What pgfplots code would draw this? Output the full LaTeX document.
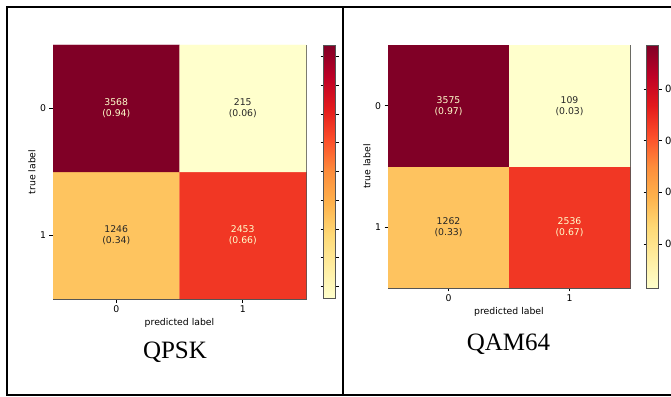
\documentclass[border=0pt]{standalone}
\usepackage{pgfplots}
\pgfplotsset{compat=1.18}
\usepackage{fontspec}
\setmainfont{DejaVu Sans}
\newfontfamily\tnr{Liberation Serif}
\definecolor{frame}{HTML}{555555}
\definecolor{lighttxt}{HTML}{FFFFCC}
\definecolor{darktxt}{HTML}{262626}
\pgfplotsset{
  colormap={ylorrd}{HTML=(FFFFCC) HTML=(FFEDA0) HTML=(FED976) HTML=(FEB24C) HTML=(FD8D3C) HTML=(FC4E2A) HTML=(E31A1C) HTML=(BD0026) HTML=(800026)},
  cm/.style={
    scale only axis,
    colormap name=ylorrd,
    font=\fontsize{9.3}{11}\selectfont,
    /pgf/number format/assume math mode=true,
    xmin=-0.5, xmax=1.5, ymin=-0.5, ymax=1.5,
    xtick={0,1}, ytick={0,1}, yticklabels={1,0},
    xtick pos=bottom, ytick pos=left,
    tick align=outside, major tick length=3.5pt,
    axis line style={frame, line width=0.8pt},
    every tick/.style={black, line width=0.6pt},
    xlabel={predicted label}, ylabel={true label},
    colorbar,
  },
}
\begin{document}
\begin{tikzpicture}[x=1pt,y=1pt]
\useasboundingbox (0pt,0pt) rectangle (671pt,396pt);
\clip (0pt,0pt) rectangle (671pt,396pt);
% ---------- QPSK ----------
\begin{axis}[cm,
  at={(53pt,97pt)}, anchor=south west, width=253pt, height=254pt,
  xlabel style={at={(axis description cs:0.5,-0.0945)}, anchor=center},
  ylabel style={at={(axis description cs:-0.083,0.5)}, anchor=center},
  colorbar style={at={(parent axis.north east)}, anchor=north west, xshift=9pt,
    scale only axis, width=12pt, height=253pt,
    ytick={0.1,0.2,0.3,0.4,0.5,0.6,0.7,0.8,0.9}, yticklabels={},
    tick align=outside, major tick length=3pt,
    axis line style={frame, line width=0.8pt},
    every tick/.style={black, line width=0.6pt}},
]
\addplot[matrix plot*, mesh/cols=2, point meta=explicit] coordinates {
 (0,0) [0.34] (1,0) [0.66]
 (0,1) [0.94] (1,1) [0.06]
};
\node[align=center, text=lighttxt] at (axis cs:0,1) {3568\\(0.94)};
\node[align=center, text=darktxt] at (axis cs:1,1) {215\\(0.06)};
\node[align=center, text=darktxt] at (axis cs:0,0) {1246\\(0.34)};
\node[align=center, text=lighttxt] at (axis cs:1,0) {2453\\(0.66)};
\end{axis}
% ---------- QAM64 ----------
\begin{axis}[cm,
  at={(388pt,108pt)}, anchor=south west, width=242pt, height=243pt,
  xlabel style={at={(axis description cs:0.5,-0.0988)}, anchor=center},
  ylabel style={at={(axis description cs:-0.0868,0.5)}, anchor=center},
  colorbar style={at={(parent axis.north east)}, anchor=north west, xshift=8pt,
    scale only axis, width=12pt, height=243pt,
    ytick={0.2,0.4,0.6,0.8}, yticklabel pos=right,
    yticklabel style={/pgf/number format/.cd, fixed, precision=1, assume math mode=true},
    tick align=outside, major tick length=3pt,
    axis line style={frame, line width=0.8pt},
    every tick/.style={black, line width=0.6pt}},
]
\addplot[matrix plot*, mesh/cols=2, point meta=explicit] coordinates {
 (0,0) [0.33] (1,0) [0.67]
 (0,1) [0.97] (1,1) [0.03]
};
\node[align=center, text=lighttxt] at (axis cs:0,1) {3575\\(0.97)};
\node[align=center, text=darktxt] at (axis cs:1,1) {109\\(0.03)};
\node[align=center, text=darktxt] at (axis cs:0,0) {1262\\(0.33)};
\node[align=center, text=lighttxt] at (axis cs:1,0) {2536\\(0.67)};
\end{axis}
% titles
\node[anchor=base, font=\tnr\fontsize{25}{30}\selectfont] at (175pt,38pt) {QPSK};
\node[anchor=base, font=\tnr\fontsize{25}{30}\selectfont] at (508.5pt,46pt) {QAM64};
% table borders
\draw[line width=2pt] (6pt,388.5pt) -- (671pt,388.5pt);
\draw[line width=2pt] (7pt,389.5pt) -- (7pt,0.5pt);
\draw[line width=1.4pt] (6pt,1.2pt) -- (671pt,1.2pt);
\draw[line width=2pt] (343pt,389.5pt) -- (343pt,0pt);
\end{tikzpicture}
\end{document}
